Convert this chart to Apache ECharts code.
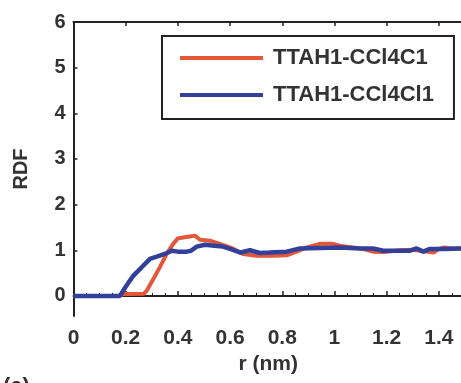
<!DOCTYPE html>
<html>
<head>
<meta charset="utf-8">
<script src="https://cdn.jsdelivr.net/npm/echarts@6/dist/echarts.min.js"></script>
<style>html,body{margin:0;padding:0;background:#fff}#c{width:461px;height:383px}</style>
</head>
<body>
<div id="c"></div>
<script>
var seriesNames = ['TTAH1-CCl4C1', 'TTAH1-CCl4Cl1'];
var rRed = [0, 0.17, 0.18, 0.19, 0.22, 0.27, 0.28, 0.306, 0.33, 0.357, 0.382, 0.40, 0.42, 0.446, 0.465, 0.485, 0.523, 0.561, 0.61, 0.65, 0.70, 0.765, 0.817, 0.855, 0.893, 0.944, 0.995, 1.02, 1.047, 1.1, 1.148, 1.19, 1.25, 1.30, 1.38, 1.40, 1.42, 1.45, 1.5];
var gRed = [0, 0, 0.01, 0.04, 0.04, 0.05, 0.11, 0.37, 0.62, 0.92, 1.14, 1.26, 1.28, 1.30, 1.32, 1.23, 1.21, 1.14, 1.04, 0.92, 0.88, 0.88, 0.89, 0.97, 1.06, 1.14, 1.14, 1.10, 1.08, 1.04, 0.97, 0.96, 1.0, 1.01, 0.95, 1.03, 1.06, 1.04, 1.04];
var rBlue = [0, 0.178, 0.20, 0.229, 0.267, 0.293, 0.319, 0.35, 0.376, 0.40, 0.434, 0.45, 0.472, 0.504, 0.54, 0.573, 0.60, 0.64, 0.676, 0.714, 0.75, 0.817, 0.868, 0.944, 1.02, 1.1, 1.148, 1.187, 1.25, 1.29, 1.315, 1.34, 1.366, 1.42, 1.5];
var gBlue = [0, 0, 0.2, 0.44, 0.66, 0.81, 0.86, 0.92, 0.99, 0.97, 0.97, 0.99, 1.08, 1.12, 1.10, 1.08, 1.03, 0.95, 1.0, 0.94, 0.95, 0.97, 1.04, 1.05, 1.06, 1.04, 1.04, 0.99, 0.99, 0.99, 1.04, 0.97, 1.03, 1.03, 1.04];
var yTicks = [0, 1, 2, 3, 4, 5, 6];

function pairs(xs, ys) { return xs.map(function (x, i) { return [x, ys[i]]; }); }

var FONT = 'Liberation Sans';
var TXT = '#333';
var AX = '#222';
var chart = echarts.init(document.getElementById('c'), null, {renderer: 'canvas'});
chart.setOption({
  animation: false,
  backgroundColor: '#fff',
  grid: {left: 73.5, top: 22, bottom: 67, width: 417.5, containLabel: false, outerBoundsMode: 'none'},
  legend: {
    orient: 'vertical', left: 162, top: 36,
    padding: [11, 20, 13, 18], itemGap: 15,
    itemWidth: 83, itemHeight: 4, icon: 'rect',
    borderColor: AX, borderWidth: 2,
    textStyle: {fontFamily: FONT, fontWeight: 'bold', fontSize: 22, color: TXT, padding: [0, 0, 0, 5]},
    data: seriesNames
  },
  xAxis: [{
    type: 'value', min: 0, max: 1.6, interval: 0.2, position: 'bottom',
    name: 'r (nm)', nameLocation: 'middle', nameGap: 37,
    nameTextStyle: {fontFamily: FONT, fontWeight: 'bold', fontSize: 21, color: TXT, padding: [0, 28, 0, 0]},
    axisLine: {lineStyle: {color: AX, width: 2}},
    axisTick: {inside: true, length: 5, lineStyle: {color: AX, width: 1.5}},
    minorTick: {show: true, splitNumber: 4, length: 3, lineStyle: {color: AX, width: 1}},
    axisLabel: {fontFamily: FONT, fontWeight: 'bold', fontSize: 21, color: TXT, margin: 12,
      formatter: function (v) { return String(+v.toFixed(1)); }},
    splitLine: {show: false}
  }, {
    type: 'value', min: 0, max: 1.6, interval: 0.2, position: 'top',
    axisLine: {lineStyle: {color: AX, width: 2}},
    axisTick: {inside: true, length: 4, lineStyle: {color: AX, width: 1.5}},
    axisLabel: {show: false}, splitLine: {show: false}
  }],
  yAxis: [{
    type: 'value', min: -0.44, max: 6,
    name: 'RDF', nameLocation: 'middle', nameGap: 42,
    nameTextStyle: {fontFamily: FONT, fontWeight: 'bold', fontSize: 20, color: TXT},
    axisLine: {lineStyle: {color: AX, width: 2}},
    axisTick: {inside: true, length: 4, customValues: yTicks, lineStyle: {color: AX, width: 1.5}},
    axisLabel: {fontFamily: FONT, fontWeight: 'bold', fontSize: 20, color: TXT, margin: 8, customValues: yTicks},
    splitLine: {show: false}
  }],
  series: [{
    name: seriesNames[0], type: 'line', data: pairs(rRed, gRed),
    showSymbol: false, lineStyle: {color: '#e5573a', width: 4}, itemStyle: {color: '#e5573a'}
  }, {
    name: seriesNames[1], type: 'line', data: pairs(rBlue, gBlue),
    showSymbol: false, lineStyle: {color: '#33409a', width: 4.5}, itemStyle: {color: '#33409a'}
  }],
  graphic: [{
    type: 'text', left: 3, top: 376,
    style: {text: '(a)', fontFamily: FONT, fontWeight: 'bold', fontSize: 22, fill: TXT}
  }]
});
</script>
</body>
</html>
